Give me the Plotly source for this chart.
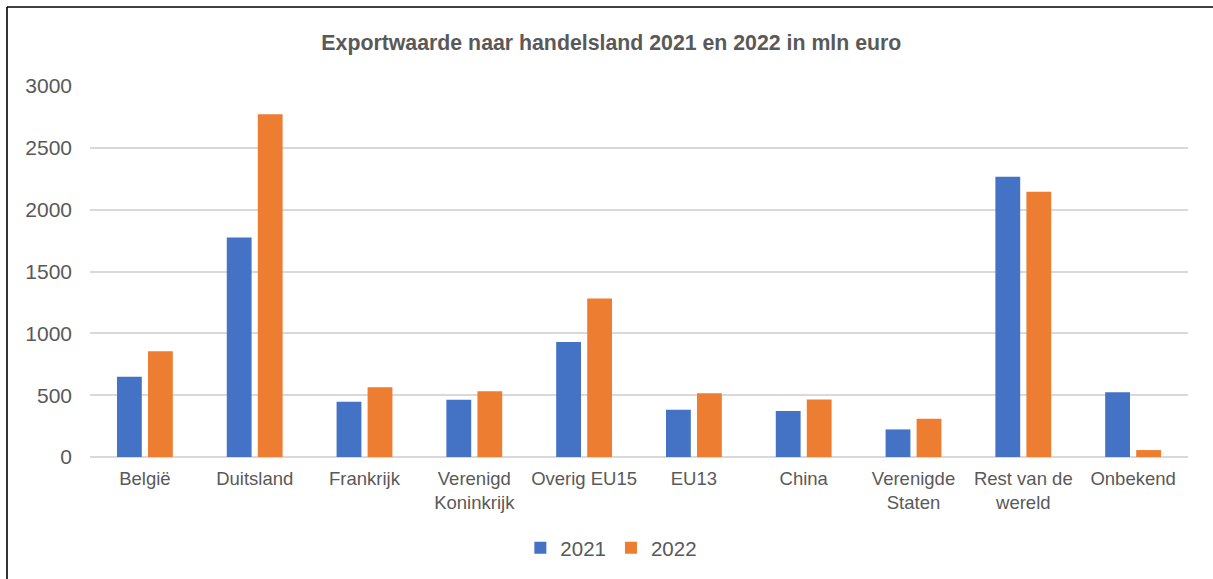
import plotly.graph_objects as go

categories = ["België", "Duitsland", "Frankrijk", "Verenigd<br>Koninkrijk", "Overig EU15",
              "EU13", "China", "Verenigde<br>Staten", "Rest van de<br>wereld", "Onbekend"]
values_2021 = [648, 1774, 446, 462, 930, 382, 371, 223, 2266, 524]
values_2022 = [855, 2771, 565, 532, 1282, 516, 465, 309, 2145, 56]
series_names = ["2021", "2022"]
y_ticks = [0, 500, 1000, 1500, 2000, 2500, 3000]

W, H = 1213, 579
L, R, T, B = 90, 25, 86, 122
TEXT = "#595959"
FONT = "Liberation Sans, Arial, sans-serif"

fig = go.Figure()
fig.add_trace(go.Bar(x=categories, y=values_2021, name=series_names[0],
                     marker=dict(color="#4472C4", line=dict(width=0))))
fig.add_trace(go.Bar(x=categories, y=values_2022, name=series_names[1],
                     marker=dict(color="#ED7D31", line=dict(width=0))))

pw = W - L - R
ph = H - T - B
def px(x):
    return (x - L) / pw
def py(y):
    return (H - B - y) / ph

fig.update_layout(
    width=W, height=H,
    margin=dict(l=L, r=R, t=T, b=B, pad=0),
    paper_bgcolor="white", plot_bgcolor="white",
    barmode="group", bargap=0.435, bargroupgap=0.2,
    font=dict(family=FONT, color=TEXT),
    title=dict(text="<b>Exportwaarde naar handelsland 2021 en 2022 in mln euro</b>",
               font=dict(size=21.3, color=TEXT, family=FONT),
               x=0.504, xref="container", xanchor="center",
               y=1 - 43 / H, yref="container", yanchor="middle"),
    legend=dict(orientation="h", x=0.504, xanchor="center", xref="container",
                y=1 - 548 / H, yanchor="middle", yref="container",
                font=dict(size=20.5, color=TEXT, family=FONT),
                itemwidth=30, traceorder="normal"),
    xaxis=dict(tickfont=dict(size=18.5, color=TEXT), showline=False, ticks="",
               ticklabelstandoff=8),
    yaxis=dict(range=[0, 3000], tickvals=y_ticks, tickfont=dict(size=21, color=TEXT),
               showgrid=True, gridcolor="#D9D9D9", gridwidth=1.5,
               zeroline=True, zerolinecolor="#D9D9D9", zerolinewidth=1.5,
               showline=False, ticks="", ticklabelstandoff=17),
    shapes=[
        dict(type="line", xref="paper", yref="paper", x0=px(7), x1=px(W + 5), y0=py(7), y1=py(7),
             line=dict(color="black", width=1.6)),
        dict(type="line", xref="paper", yref="paper", x0=px(7), x1=px(7), y0=py(7), y1=py(H + 5),
             line=dict(color="black", width=1.6)),
    ],
)

fig.write_html("out.html", config={"displayModeBar": False},
               post_script="document.body.style.margin='0px';")
